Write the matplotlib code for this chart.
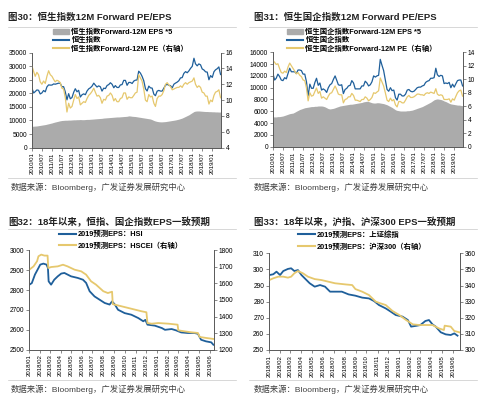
import pandas as pd
import matplotlib.pyplot as plt
import matplotlib.dates as mdates
from matplotlib.lines import Line2D
from matplotlib.patches import Patch

plt.rcParams['font.family'] = ['Liberation Sans', 'Noto Sans CJK SC']
plt.rcParams['axes.unicode_minus'] = False

BLUE = '#1F5F9A'
GOLD = '#E6C86E'
GREY = '#ABABAB'
AXC = '#595959'

# ---- top charts: month-end values, 2009/12 .. 2019/05 ----
months_top = pd.date_range('2009-12-31', periods=114, freq='ME')

hsi = [21873,
       20122, 20608, 21239, 21108, 19765, 20129, 21030, 20536, 22358, 23096, 23008, 23035,
       23447, 23338, 23528, 23720, 23684, 22398, 22440, 20535, 17592, 19864, 17989, 18434,
       20390, 21680, 20556, 21094, 18630, 19441, 19796, 19482, 20840, 21642, 22030, 22657,
       23730, 23020, 22300, 22737, 22392, 20803, 21884, 21731, 22860, 23206, 23881, 23306,
       22035, 22837, 22151, 22134, 23082, 23191, 24757, 24742, 22933, 23998, 23987, 23605,
       24507, 24823, 24901, 28133, 27424, 26250, 24636, 21670, 20846, 22640, 21996, 21914,
       19683, 19112, 20777, 21067, 20815, 20794, 21891, 22977, 23297, 22935, 22790, 22001,
       23361, 23741, 24112, 24615, 25661, 25765, 27324, 27970, 27554, 28246, 29177, 29919,
       32887, 30845, 30093, 30808, 30469, 28955, 28583, 27889, 27789, 24980, 26507, 25846,
       27942, 28633, 29051, 29699, 26901]
hsi_pe = [14.3,
          13.6, 13.0, 13.5, 13.2, 12.3, 12.0, 12.4, 12.1, 13.0, 13.7, 13.2, 13.0,
          12.6, 12.3, 12.5, 12.4, 12.2, 11.5, 11.4, 10.3, 8.5, 9.6, 9.0, 9.2,
          10.0, 10.7, 10.2, 10.4, 9.4, 9.6, 9.8, 9.7, 10.2, 10.6, 10.8, 11.1,
          11.5, 11.0, 10.5, 10.6, 10.3, 9.6, 10.1, 10.0, 10.5, 10.6, 10.9, 10.6,
          9.9, 10.2, 9.8, 9.8, 10.2, 10.3, 10.9, 10.9, 10.1, 10.4, 10.3, 10.3,
          10.6, 10.9, 11.0, 13.2, 12.8, 12.4, 11.4, 10.0, 9.8, 10.7, 10.4, 10.5,
          9.6, 9.2, 10.2, 10.5, 10.5, 10.7, 11.2, 12.0, 12.2, 11.9, 11.7, 11.3,
          11.4, 11.5, 11.6, 11.6, 11.8, 11.6, 12.0, 12.2, 12.0, 12.2, 12.3, 12.4,
          12.8, 12.0, 11.6, 11.8, 11.6, 11.0, 10.9, 10.5, 10.5, 9.5, 10.0, 9.8,
          10.6, 11.0, 11.1, 11.3, 10.3]
hsi_eps5 = [7850,
            7900, 7950, 8000, 8100, 8200, 8300, 8400, 8500, 8650, 8800, 8950, 9100,
            9300, 9450, 9600, 9750, 9900, 10000, 10050, 10100, 10100, 10150, 10150, 10200,
            10250, 10250, 10300, 10300, 10350, 10300, 10300, 10350, 10400, 10400, 10450, 10500,
            10550, 10600, 10650, 10700, 10750, 10800, 10900, 10950, 11000, 11050, 11100, 11150,
            11200, 11250, 11300, 11300, 11350, 11400, 11450, 11500, 11550, 11700, 11650, 11550,
            11500, 11450, 11350, 11250, 11150, 11050, 10950, 10850, 10750, 10650, 10550, 10300,
            10000, 9800, 9650, 9550, 9500, 9500, 9550, 9600, 9700, 9800, 9900, 10000,
            10100, 10200, 10350, 10500, 10700, 10900, 11200, 11500, 11800, 12100, 12500, 12900,
            13300, 13450, 13500, 13500, 13450, 13400, 13350, 13300, 13300, 13250, 13250, 13200,
            13200, 13150, 13150, 13100, 13100]

hscei = [12400,
         11300, 11600, 12300, 11900, 11300, 11200, 11700, 11500, 12400, 13300, 12700, 12700,
         12700, 12400, 13000, 13000, 12900, 12300, 12300, 11000, 8600, 10600, 9900, 9900,
         10900, 11600, 10400, 10800, 9600, 9800, 9600, 9200, 10000, 10500, 10700, 11400,
         12000, 11300, 10500, 10400, 10500, 9000, 9700, 9900, 10300, 10400, 11200, 10800,
         9800, 9800, 9800, 9800, 10300, 10300, 11100, 10800, 10300, 10500, 11000, 12000,
         11800, 12000, 12100, 14800, 13800, 12900, 11300, 9700, 9400, 10000, 9500, 9600,
         8300, 7900, 8900, 8900, 8600, 8600, 8900, 9600, 9700, 9400, 9300, 9400,
         9700, 10000, 10100, 10100, 10300, 10400, 10900, 11100, 11200, 11600, 11600, 11700,
         13300, 12200, 11900, 12100, 12000, 10700, 10800, 10700, 10900, 10000, 10600, 10100,
         10700, 11200, 11300, 11300, 10300]
hscei_pe = [12.8,
            12.5, 12.2, 12.3, 11.6, 11.0, 10.9, 11.2, 11.0, 11.8, 12.4, 12.0, 11.6,
            11.2, 10.8, 11.0, 10.6, 10.4, 9.9, 9.8, 8.7, 6.8, 8.0, 7.5, 7.6,
            8.2, 8.7, 7.9, 8.2, 7.2, 7.4, 7.2, 7.0, 7.5, 7.9, 8.0, 8.5,
            9.0, 8.5, 7.8, 7.7, 7.7, 6.5, 7.0, 7.1, 7.4, 7.4, 7.9, 7.6,
            6.9, 6.9, 6.8, 6.7, 7.0, 7.0, 7.4, 7.2, 6.8, 7.0, 7.3, 8.0,
            7.9, 8.1, 8.3, 10.2, 9.6, 9.0, 8.0, 6.9, 6.7, 7.2, 6.8, 7.0,
            6.2, 5.9, 6.7, 6.7, 6.5, 6.5, 6.9, 7.4, 7.6, 7.3, 7.3, 7.4,
            7.6, 7.8, 7.8, 7.7, 7.7, 7.6, 7.9, 8.0, 7.9, 8.1, 8.0, 7.9,
            8.6, 7.8, 7.6, 7.7, 7.6, 7.0, 7.0, 7.0, 7.1, 6.6, 7.1, 6.9,
            7.5, 8.0, 8.3, 8.4, 7.5]
hscei_eps5 = [5050,
              5050, 5050, 5100, 5100, 5150, 5200, 5300, 5400, 5500, 5600, 5650, 5700,
              5850, 6000, 6150, 6300, 6400, 6500, 6600, 6650, 6700, 6750, 6800, 6800,
              6850, 6850, 6900, 6900, 6900, 6850, 6750, 6600, 6450, 6400, 6450, 6500,
              6600, 6700, 6800, 6900, 6950, 7000, 7050, 7100, 7150, 7200, 7200, 7250,
              7300, 7350, 7400, 7450, 7500, 7600, 7650, 7700, 7650, 7550, 7450, 7400,
              7400, 7450, 7450, 7400, 7350, 7300, 7200, 7100, 6950, 6800, 6650, 6450,
              6250, 6150, 6100, 6050, 6050, 6050, 6050, 6100, 6100, 6150, 6200, 6300,
              6400, 6500, 6600, 6700, 6800, 6950, 7100, 7250, 7400, 7550, 7750, 7950,
              8050, 8100, 8050, 8000, 7900, 7750, 7650, 7500, 7350, 7250, 7200, 7150,
              7100, 7050, 7050, 7000, 6950]

# ---- bottom-left: 2019 EPS forecasts, HSI / HSCEI ----
hsi_eps_dates = ['2018-01-02', '2018-01-09', '2018-01-18', '2018-01-28', '2018-02-02', '2018-02-11',
                 '2018-02-20', '2018-02-24', '2018-02-26', '2018-03-05', '2018-03-14', '2018-03-24',
                 '2018-04-03', '2018-04-12', '2018-04-21', '2018-05-01', '2018-05-20', '2018-06-04',
                 '2018-06-13', '2018-06-23', '2018-07-07', '2018-07-21', '2018-08-05', '2018-08-19',
                 '2018-08-26', '2018-09-03', '2018-09-12', '2018-10-01', '2018-10-20', '2018-11-09',
                 '2018-11-23', '2018-11-29', '2018-12-05', '2018-12-26', '2019-01-15', '2019-01-24',
                 '2019-02-12', '2019-02-25', '2019-03-11', '2019-03-30', '2019-04-18', '2019-04-28',
                 '2019-05-07', '2019-05-21', '2019-06-05', '2019-06-11']
hsi_eps = [2827, 2835, 2878, 2911, 2928, 2933,
           2928, 2911, 2844, 2827, 2852, 2869,
           2883, 2886, 2878, 2869, 2861, 2852,
           2836, 2794, 2768, 2752, 2735, 2727,
           2743, 2727, 2701, 2684, 2676, 2659,
           2643, 2650, 2626, 2621, 2609, 2600,
           2604, 2597, 2587, 2584, 2584, 2580,
           2550, 2542, 2537, 2525]
hscei_eps_dates = ['2018-01-02', '2018-01-14', '2018-01-24', '2018-01-28', '2018-02-05', '2018-02-14',
                   '2018-02-23', '2018-02-25', '2018-03-05', '2018-03-24', '2018-04-08', '2018-04-21',
                   '2018-05-11', '2018-05-30', '2018-06-13', '2018-06-27', '2018-07-11', '2018-08-01',
                   '2018-08-14', '2018-08-26', '2018-08-28', '2018-09-22', '2018-10-11', '2018-10-30',
                   '2018-11-18', '2018-12-02', '2018-12-05', '2018-12-17', '2019-01-05', '2019-02-03',
                   '2019-03-01', '2019-03-03', '2019-03-20', '2019-04-09', '2019-04-28', '2019-05-03',
                   '2019-05-21', '2019-06-11']
hscei_eps = [1683, 1703, 1734, 1764, 1774, 1768,
             1768, 1693, 1699, 1703, 1713, 1703,
             1683, 1673, 1653, 1613, 1593, 1553,
             1542, 1550, 1475, 1462, 1452, 1442,
             1432, 1426, 1361, 1357, 1361, 1357,
             1351, 1317, 1311, 1305, 1301, 1277,
             1271, 1265]

# ---- bottom-right: 2019 EPS forecasts, SSE Composite / CSI 300 ----
sh_eps_dates = ['2018-01-02', '2018-01-13', '2018-01-22', '2018-02-01', '2018-02-10', '2018-02-23',
                '2018-03-04', '2018-03-13', '2018-03-23', '2018-04-02', '2018-04-11', '2018-04-25',
                '2018-05-09', '2018-05-24', '2018-06-07', '2018-06-21', '2018-07-05', '2018-07-24',
                '2018-08-12', '2018-08-31', '2018-09-19', '2018-10-08', '2018-10-22', '2018-11-05',
                '2018-11-24', '2018-12-08', '2018-12-22', '2019-01-10', '2019-01-25', '2019-02-03',
                '2019-02-17', '2019-03-01', '2019-03-15', '2019-03-25', '2019-04-04', '2019-04-13',
                '2019-04-27', '2019-05-11', '2019-05-25', '2019-06-04', '2019-06-13']
sh_eps = [296.5, 297.0, 298.6, 296.5, 299.0, 300.3,
          300.7, 299.0, 299.6, 296.5, 294.5, 291.4,
          289.3, 290.3, 289.3, 286.2, 286.2, 286.2,
          284.5, 283.7, 282.5, 282.0, 280.4, 277.9,
          275.8, 273.8, 271.7, 270.7, 268.6, 264.5,
          265.0, 265.5, 268.0, 268.6, 265.9, 264.5,
          261.0, 259.7, 259.3, 260.3, 258.9]
hs300_eps_dates = ['2018-01-02', '2018-01-13', '2018-01-27', '2018-02-10', '2018-02-23', '2018-03-04',
                   '2018-03-13', '2018-03-23', '2018-04-06', '2018-04-20', '2018-05-09', '2018-05-28',
                   '2018-06-16', '2018-07-05', '2018-08-03', '2018-08-22', '2018-08-31', '2018-09-19',
                   '2018-10-08', '2018-10-27', '2018-11-10', '2018-11-24', '2018-12-13', '2019-01-01',
                   '2019-01-20', '2019-02-08', '2019-02-26', '2019-03-15', '2019-04-04', '2019-04-22',
                   '2019-05-06', '2019-05-08', '2019-05-25', '2019-06-04', '2019-06-18']
hs300_eps = [343.4, 344.5, 345.5, 345.5, 344.9, 345.5,
             347.6, 349.0, 347.6, 345.5, 344.0, 343.4,
             342.4, 341.4, 340.7, 340.3, 337.8, 336.2,
             334.1, 330.0, 328.9, 327.9, 324.2, 321.7,
             318.6, 315.9, 315.5, 315.5, 315.5, 313.4,
             312.4, 315.1, 314.5, 311.8, 311.0]


def style(ax, ax2):
    for a in (ax, ax2):
        a.spines['top'].set_visible(False)
        for s in a.spines.values():
            s.set_color(AXC)
            s.set_linewidth(0.6)
        a.tick_params(labelsize=4.8, length=2, width=0.5, color=AXC, pad=1.5)
    ax.tick_params(axis='x', labelsize=4.3, rotation=90)


fig = plt.figure(figsize=(4.82, 4.0), dpi=100)


def fy(py):
    return 1 - py / 400


def fx(px):
    return px / 482


# ---------- top-left ----------
ax = fig.add_axes([fx(32), fy(147.7), fx(189), 95.2 / 400])
ax2 = ax.twinx()
ax.fill_between(months_top, hsi_eps5, 0, color=GREY, lw=0)
ax.plot(months_top, hsi, color=BLUE, lw=0.9)
ax2.plot(months_top, hsi_pe, color=GOLD, lw=0.9)
ax.set_ylim(0, 35000)
ax.set_yticks(range(0, 35001, 5000))
ax2.set_ylim(4, 16)
ax2.set_yticks(range(4, 17, 2))
ax.set_xlim(pd.Timestamp('2010-01-01'), pd.Timestamp('2019-06-08'))
ax.xaxis.set_major_locator(mdates.MonthLocator(bymonth=[1, 7]))
ax.xaxis.set_major_formatter(mdates.DateFormatter('%Y/%m'))
style(ax, ax2)
fig.legend([Patch(color=GREY), Line2D([], [], color=BLUE, lw=1.5), Line2D([], [], color=GOLD, lw=1.5)],
           ['恒生指数Forward-12M EPS *5', '恒生指数', '恒生指数Forward-12M PE（右轴）'],
           loc='upper left', bbox_to_anchor=(fx(53), fy(29)), frameon=False,
           prop={'size': 5.3, 'weight': 'bold'}, handlelength=2.2, handleheight=0.6,
           handletextpad=0.3, labelspacing=0.15, borderpad=0, borderaxespad=0)

# ---------- top-right ----------
ax = fig.add_axes([fx(273), fy(146.7), fx(190), 94.4 / 400])
ax2 = ax.twinx()
ax.fill_between(months_top, hscei_eps5, 0, color=GREY, lw=0)
ax.plot(months_top, hscei, color=BLUE, lw=0.9)
ax2.plot(months_top, hscei_pe, color=GOLD, lw=0.9)
ax.set_ylim(0, 16000)
ax.set_yticks(range(0, 16001, 2000))
ax2.set_ylim(0, 14)
ax2.set_yticks(range(0, 15, 2))
ax.set_xlim(pd.Timestamp('2010-01-01'), pd.Timestamp('2019-06-08'))
ax.xaxis.set_major_locator(mdates.MonthLocator(bymonth=[1, 7]))
ax.xaxis.set_major_formatter(mdates.DateFormatter('%Y/%m'))
style(ax, ax2)
fig.legend([Patch(color=GREY), Line2D([], [], color=BLUE, lw=1.5), Line2D([], [], color=GOLD, lw=1.5)],
           ['恒生国企指数Forward-12M EPS *5', '恒生国企指数', '恒生国企指数Forward-12M PE（右轴）'],
           loc='upper left', bbox_to_anchor=(fx(287), fy(29)), frameon=False,
           prop={'size': 5.3, 'weight': 'bold'}, handlelength=2.2, handleheight=0.6,
           handletextpad=0.3, labelspacing=0.15, borderpad=0, borderaxespad=0)

# ---------- bottom-left ----------
ax = fig.add_axes([fx(29), fy(349.7), fx(184.7), 99.4 / 400])
ax2 = ax.twinx()
ax.plot(pd.to_datetime(hsi_eps_dates), hsi_eps, color=BLUE, lw=1.3)
ax2.plot(pd.to_datetime(hscei_eps_dates), hscei_eps, color=GOLD, lw=1.3)
ax.set_ylim(2500, 3000)
ax.set_yticks(range(2500, 3001, 100))
ax2.set_ylim(1200, 1800)
ax2.set_yticks(range(1200, 1801, 100))
ax.set_xlim(pd.Timestamp('2018-01-01'), pd.Timestamp('2019-06-12'))
ax.xaxis.set_major_locator(mdates.MonthLocator())
ax.xaxis.set_major_formatter(mdates.DateFormatter('%Y/%m'))
style(ax, ax2)
fig.legend([Line2D([], [], color=BLUE, lw=1.5), Line2D([], [], color=GOLD, lw=1.5)],
           ['2019预测EPS：HSI', '2019预测EPS：HSCEI（右轴）'],
           loc='upper left', bbox_to_anchor=(fx(59), fy(231)), frameon=False,
           prop={'size': 5.3, 'weight': 'bold'}, handlelength=2.3,
           handletextpad=0.3, labelspacing=0.6, borderpad=0, borderaxespad=0)

# ---------- bottom-right ----------
ax = fig.add_axes([fx(269), fy(350), fx(191), 96.7 / 400])
ax2 = ax.twinx()
ax.plot(pd.to_datetime(sh_eps_dates), sh_eps, color=BLUE, lw=1.3)
ax2.plot(pd.to_datetime(hs300_eps_dates), hs300_eps, color=GOLD, lw=1.3)
ax.set_ylim(250, 310)
ax.set_yticks(range(250, 311, 10))
ax2.set_ylim(300, 360)
ax2.set_yticks(range(300, 361, 10))
ax.set_xlim(pd.Timestamp('2018-01-01'), pd.Timestamp('2019-06-20'))
ax.xaxis.set_major_locator(mdates.MonthLocator())
ax.xaxis.set_major_formatter(mdates.DateFormatter('%Y/%m'))
style(ax, ax2)
fig.legend([Line2D([], [], color=BLUE, lw=1.5), Line2D([], [], color=GOLD, lw=1.5)],
           ['2019预测EPS：上证综指', '2019预测EPS：沪深300（右轴）'],
           loc='upper left', bbox_to_anchor=(fx(298), fy(231)), frameon=False,
           prop={'size': 5.3, 'weight': 'bold'}, handlelength=2.3,
           handletextpad=0.3, labelspacing=0.6, borderpad=0, borderaxespad=0)

# ---------- titles, sources, rules ----------
titles = ['图30：恒生指数12M Forward PE/EPS', '图31：恒生国企指数12M Forward PE/EPS',
          '图32：18年以来，恒指、国企指数EPS一致预期', '图33：18年以来，沪指、沪深300 EPS一致预期']
for (px, py), t in zip([(8, 17), (254, 17), (8, 222), (254, 222)], titles):
    fig.text(fx(px), fy(py), t, fontsize=6.8, fontweight='bold', va='center', color='#222222')

for px, py in [(11, 187), (254, 187), (11, 389), (254, 389)]:
    fig.text(fx(px), fy(py), '数据来源：Bloomberg，广发证券发展研究中心', fontsize=6,
             va='center', color='#404040')

for x0, x1 in [(8, 236), (249, 477)]:
    for py in (27, 178, 229, 380):
        fig.add_artist(Line2D([fx(x0), fx(x1)], [fy(py), fy(py)], transform=fig.transFigure,
                              color='#C8C8C8', lw=0.5))

fig.savefig('out.png', dpi=100)
